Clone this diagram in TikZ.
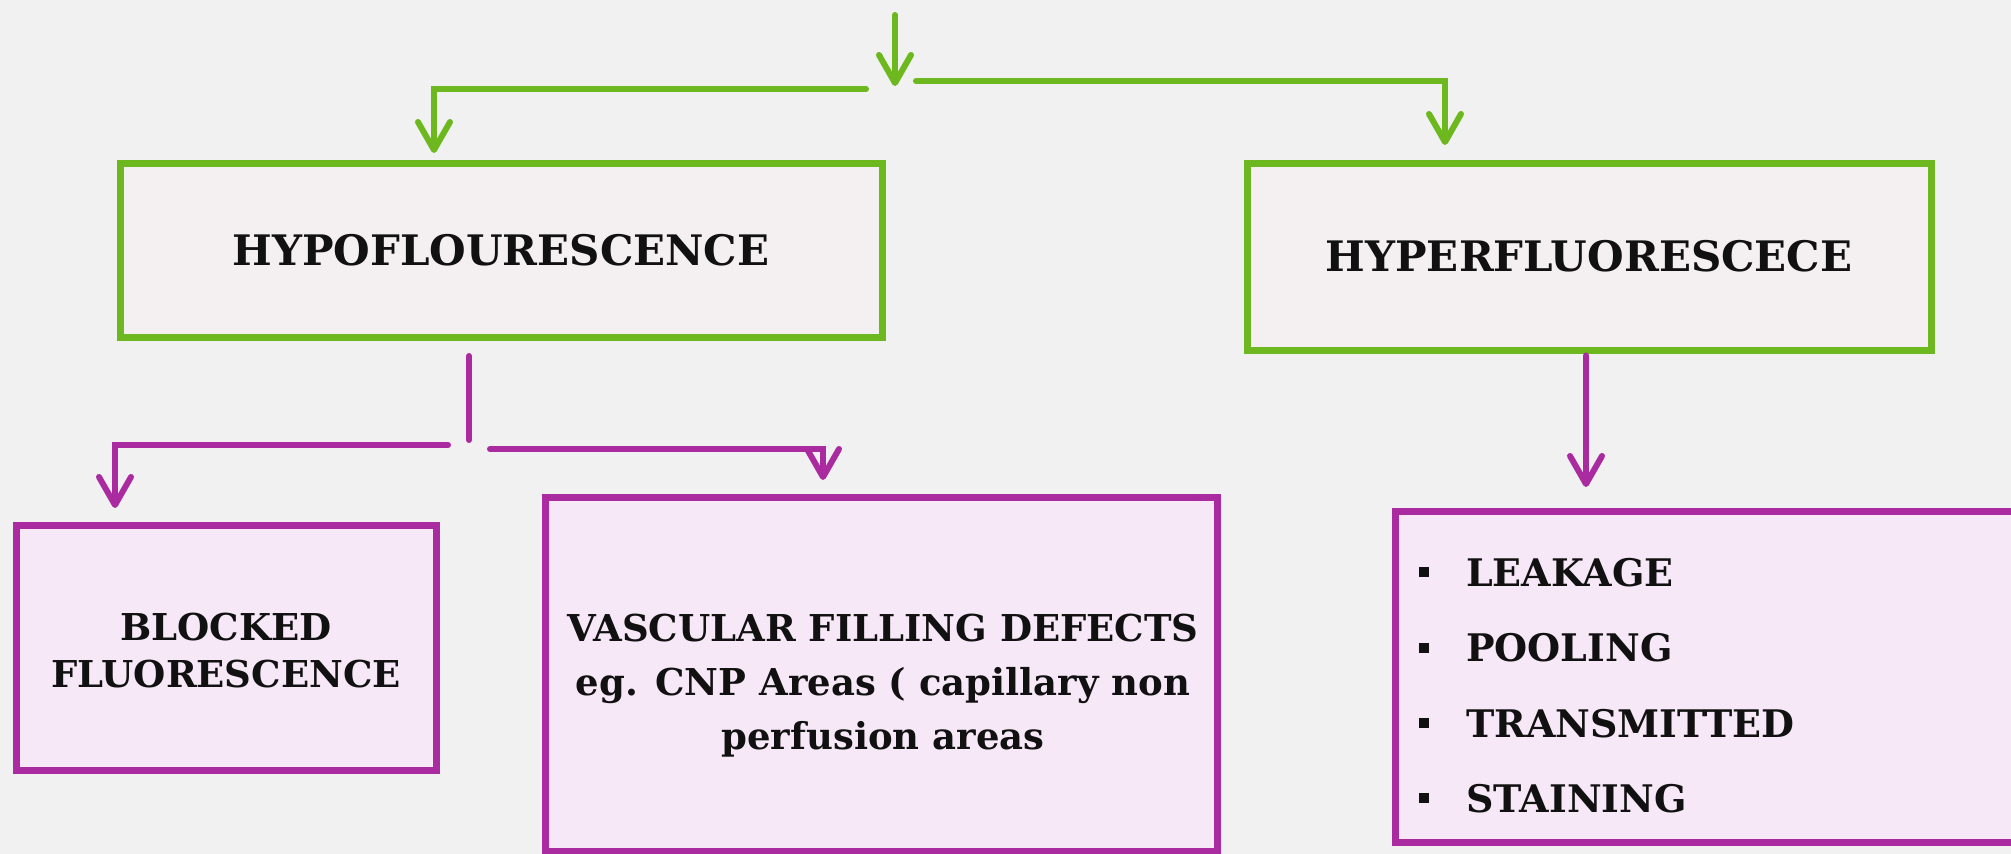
\documentclass[tikz,border=0pt]{standalone}
\usepackage{fontspec}
\setmainfont{DejaVu Serif}
\usetikzlibrary{arrows.meta,calc}
\definecolor{bg}{HTML}{F1F1F1}
\definecolor{gr}{HTML}{6CB81E}
\definecolor{mg}{HTML}{AA2BA0}
\definecolor{gfill}{HTML}{F4F0F2}
\definecolor{mfill}{HTML}{F6E8F6}
\definecolor{ink}{HTML}{111111}
\begin{document}
\begin{tikzpicture}[x=1pt,y=-1pt,
  gbox/.style={draw=gr,fill=gfill,line width=7pt,rectangle,inner sep=0pt,text=ink,align=center},
  mbox/.style={draw=mg,fill=mfill,line width=7pt,rectangle,inner sep=0pt,text=ink,align=center},
  txt/.style={inner sep=0pt,text=ink,align=center},
  gline/.style={draw=gr,line width=6pt,line cap=round},
  mline/.style={draw=mg,line width=6pt,line cap=round},
  tip/.style={-{Straight Barb[length=28pt,width=32pt,round]}},
  bigfont/.style={font=\bfseries\fontsize{42}{50}\selectfont},
]
\fill[bg] (0,0) rectangle (2011,854);
\useasboundingbox (0,0) rectangle (2011,854);
\clip (0,0) rectangle (2011,854);

% boxes
\node[gbox,bigfont,minimum width=762pt,minimum height=174pt] (hypo) at (501,250) {HYPOFLOURESCENCE};
\node[gbox,bigfont,minimum width=684pt,minimum height=187pt] (hyper) at (1589,256.5) {HYPERFLUORESCECE};
\node[mbox,minimum width=420pt,minimum height=245pt] (blocked) at (226,647.5) {};
\node[txt,font=\bfseries\fontsize{37}{47}\selectfont] (blockedtext) at (226,651) {BLOCKED\\FLUORESCENCE};
\node[mbox,minimum width=672pt,minimum height=354pt] (vasc) at (881,674) {};
\node[txt,font=\bfseries\fontsize{37}{54}\selectfont,anchor=north] (vasctext) at (883,614) {VASCULAR FILLING DEFECTS\\eg. CNP Areas ( capillary non\\perfusion areas};
\node[mbox,minimum width=635pt,minimum height=331pt] (list) at (1712.5,676.5) {};
\node[txt,anchor=north west,align=left,font=\bfseries\fontsize{38}{75.3}\selectfont] (items) at (1419,558)
  {\raisebox{9pt}{\rule{10pt}{10pt}}\hspace{37pt}LEAKAGE\\
   \raisebox{9pt}{\rule{10pt}{10pt}}\hspace{37pt}POOLING\\
   \raisebox{9pt}{\rule{10pt}{10pt}}\hspace{37pt}TRANSMITTED\\
   \raisebox{9pt}{\rule{10pt}{10pt}}\hspace{37pt}STAINING};

% green connectors
\coordinate (gtop) at (895,15);
\coordinate (gsplit) at (895,86);
\draw[gline,tip] (gtop) -- (gsplit);
\coordinate (gl0) at (866,89);
\coordinate (gl1) at (434,89);
\draw[gline,tip,shorten >=6.5pt] (gl0) -- (gl1) -- (gl1 |- hypo.north);
\coordinate (gr0) at (916,81);
\coordinate (gr1) at (1445,81);
\draw[gline,tip,shorten >=14.5pt] (gr0) -- (gr1) -- (gr1 |- hyper.north);

% magenta connectors
\coordinate (m0) at (469,356);
\coordinate (m1) at (469,440);
\draw[mline] (m0) -- (m1);
\coordinate (ml0) at (448,445);
\coordinate (ml1) at (115,445);
\draw[mline,tip,shorten >=13.5pt] (ml0) -- (ml1) -- (ml1 |- blocked.north);
\coordinate (mr0) at (490,449);
\coordinate (mr1) at (823,449);
\draw[mline,tip,shorten >=13.5pt] (mr0) -- (mr1) -- (mr1 |- vasc.north);
\coordinate (mh) at (1586,400);
\draw[mline,tip,shorten <=2pt,shorten >=20.5pt] (mh |- hyper.south) -- (mh |- list.north);
\end{tikzpicture}
\end{document}
